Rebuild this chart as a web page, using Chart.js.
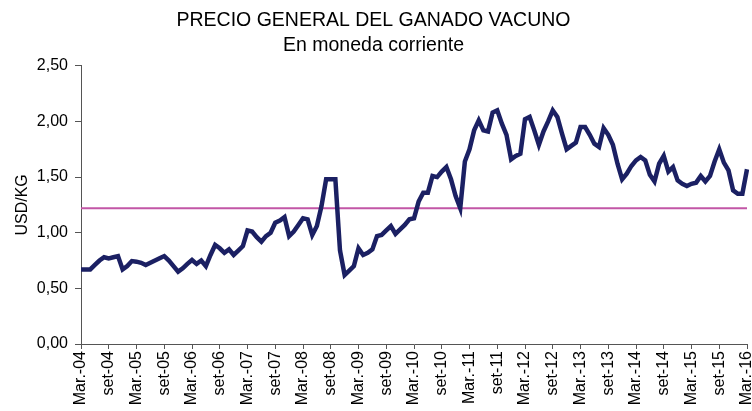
<!DOCTYPE html>
<html>
<head>
<meta charset="utf-8">
<script src="https://cdn.jsdelivr.net/npm/chart.js@4"></script>
<style>
  html, body { margin: 0; padding: 0; background: #fff; }
</style>
</head>
<body>
<canvas id="line-chart" width="752" height="411"></canvas>
<script>
const lineCtx = document.getElementById('line-chart').getContext('2d');

// meses de Mar.-04 a Mar.-16
const monthNames = ['Ene.', 'Feb.', 'Mar.', 'Abr.', 'May.', 'Jun.', 'Jul.', 'Ago.', 'set', 'Oct.', 'Nov.', 'Dic.'];

// USD/KG, mensual
const precios = [
  // 2004 (mar-dic)
  0.67, 0.67, 0.67, 0.71, 0.75, 0.78, 0.77, 0.78, 0.79, 0.67,
  // 2005
  0.70, 0.745, 0.74, 0.73, 0.71, 0.73, 0.75, 0.77, 0.79, 0.75, 0.70, 0.65,
  // 2006
  0.68, 0.72, 0.755, 0.72, 0.75, 0.70, 0.80, 0.89, 0.86, 0.82, 0.85, 0.80,
  // 2007
  0.84, 0.88, 1.02, 1.01, 0.96, 0.92, 0.97, 1.00, 1.09, 1.11, 1.14, 0.97,
  // 2008
  1.01, 1.07, 1.13, 1.12, 0.98, 1.06, 1.24, 1.48, 1.48, 1.48, 0.84, 0.62,
  // 2009
  0.66, 0.70, 0.86, 0.80, 0.82, 0.85, 0.97, 0.98, 1.02, 1.06, 0.99, 1.03,
  // 2010
  1.07, 1.12, 1.13, 1.28, 1.36, 1.36, 1.51, 1.50, 1.55, 1.59, 1.48, 1.33,
  // 2011
  1.22, 1.64, 1.75, 1.92, 2.01, 1.92, 1.91, 2.08, 2.10, 1.98, 1.88, 1.66,
  // 2012
  1.69, 1.71, 2.02, 2.04, 1.92, 1.79, 1.91, 2.00, 2.10, 2.04, 1.89, 1.75,
  // 2013
  1.78, 1.81, 1.95, 1.95, 1.88, 1.80, 1.77, 1.94, 1.88, 1.79, 1.62, 1.48,
  // 2014
  1.53, 1.60, 1.65, 1.68, 1.65, 1.52, 1.46, 1.62, 1.69, 1.55, 1.59, 1.47,
  // 2015
  1.44, 1.42, 1.44, 1.45, 1.51, 1.46, 1.51, 1.64, 1.75, 1.63, 1.56, 1.38,
  // 2016 (ene-mar)
  1.35, 1.35, 1.57,
];

const promedio = 1.22;

const buildLabels = () => {
  const labels = [];
  let m = 2;
  let y = 4;
  for (let i = 0; i < precios.length; i++) {
    const yy = String(y).padStart(2, '0');
    labels.push(monthNames[m] + '-' + yy);
    m++;
    if (m === 12) {
      m = 0;
      y++;
    }
  }
  return labels;
};

const labels = buildLabels();
const font = 'Liberation Sans, Arial, sans-serif';
const axisColor = '#555';

const myChart = new Chart(lineCtx, {
  type: 'line',
  data: {
    labels,
    datasets: [
      {
        data: precios,
        borderColor: '#1b2063',
        borderWidth: 4.5,
        pointRadius: 0,
        tension: 0,
        fill: false,
      },
      {
        data: labels.map(() => promedio),
        borderColor: '#c256a6',
        borderWidth: 2,
        pointRadius: 0,
        fill: false,
      },
    ],
  },
  options: {
    responsive: false,
    animation: false,
    layout: { padding: { left: 0, right: 5, top: 0, bottom: 0 } },
    plugins: {
      legend: { display: false },
      tooltip: { enabled: false },
      title: {
        display: true,
        text: 'PRECIO GENERAL DEL GANADO VACUNO',
        color: '#000',
        font: { family: font, size: 19.5, weight: 'normal' },
        padding: { top: 9, bottom: 2 },
      },
      subtitle: {
        display: true,
        text: 'En moneda corriente',
        color: '#000',
        font: { family: font, size: 19.5, weight: 'normal' },
        padding: { top: 0, bottom: 8 },
      },
    },
    scales: {
      x: {
        offset: false,
        afterFit: s => {
          s.height = 67;
          s.paddingLeft = 0;
          s.paddingRight = 0;
        },
        border: { display: true, color: axisColor, width: 1 },
        grid: {
          drawOnChartArea: false,
          drawTicks: true,
          tickLength: 5,
          tickColor: ctx => (ctx.index % 6 === 0 ? axisColor : 'rgba(0,0,0,0)'),
        },
        ticks: {
          autoSkip: false,
          minRotation: 90,
          maxRotation: 90,
          padding: 2,
          color: '#000',
          font: { family: font, size: 16 },
          callback: (v, i) => (i % 6 === 0 ? labels[i] : ''),
        },
      },
      y: {
        min: 0,
        max: 2.5,
        afterFit: s => { s.width = 81; },
        border: { display: true, color: axisColor, width: 1 },
        grid: {
          drawOnChartArea: false,
          drawTicks: true,
          tickLength: 6,
          tickColor: axisColor,
        },
        title: {
          display: true,
          text: 'USD/KG',
          color: '#000',
          font: { family: font, size: 16 },
          padding: { top: 13, bottom: 0 },
        },
        ticks: {
          stepSize: 0.5,
          padding: 7,
          color: '#000',
          font: { family: font, size: 16 },
          callback: v => v.toFixed(2).replace('.', ','),
        },
      },
    },
  },
});
</script>
</body>
</html>
